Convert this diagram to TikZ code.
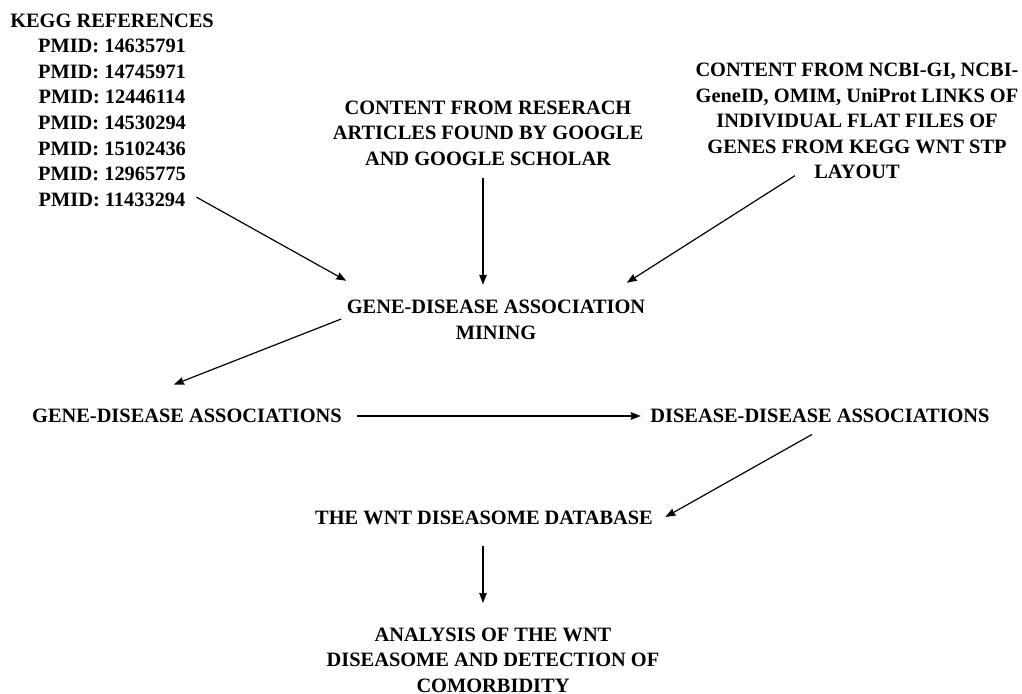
\documentclass[tikz,border=0pt]{standalone}
\usepackage{fontspec}
\setmainfont{Liberation Serif}
\usetikzlibrary{arrows.meta, calc}

\begin{document}
\begin{tikzpicture}[x=0.5pt, y=-0.5pt, ->, >={Stealth[length=5pt,width=3.8pt,inset=0.4pt]},
  semithick, txt node/.style={inner sep=0pt, align=center, font=\bfseries\fontsize{10.2}{12.8}\selectfont}]
  \useasboundingbox (0,0) rectangle (1022,694);
  \node[txt node] (kegg) at (112,110) {KEGG REFERENCES\\PMID: 14635791\\PMID: 14745971\\PMID: 12446114\\PMID: 14530294\\PMID: 15102436\\PMID: 12965775\\PMID: 11433294};
  \node[txt node] (research) at (488,133) {CONTENT FROM RESERACH\\ARTICLES FOUND BY GOOGLE\\AND GOOGLE SCHOLAR};
  \node[txt node] (ncbi) at (857,121) {CONTENT FROM NCBI-GI, NCBI-\\GeneID, OMIM, UniProt LINKS OF\\INDIVIDUAL FLAT FILES OF\\GENES FROM KEGG WNT STP\\LAYOUT};
  \node[txt node] (mining) at (496,320) {GENE-DISEASE ASSOCIATION\\MINING};
  \node[txt node] (gd) at (187,416) {GENE-DISEASE ASSOCIATIONS};
  \node[txt node] (dd) at (820,416) {DISEASE-DISEASE ASSOCIATIONS};
  \node[txt node] (wnt) at (484,518) {THE WNT DISEASOME DATABASE};
  \node[txt node] (analysis) at (493,660) {ANALYSIS OF THE WNT\\DISEASOME AND DETECTION OF\\COMORBIDITY};
  \path
    ($(kegg.south east)+(-18,-10)$) edge ($(mining.north west)+(0,-19)$)
    ($(research.south)+(-5,12)$) edge ($(mining.north)+(-13,-15)$)
    ($(ncbi.south)+(-62,-4)$) edge ($(mining.north east)+(-19,-17)$)
    ($(mining.west)+(-5,-1)$) edge ($(gd.north)+(-13,-24)$)
    ($(gd.east)+(15,0)$) edge ($(dd.west)+(-9,0)$)
    ($(dd.south)+(-8,11)$) edge ($(wnt.east)+(12,-1)$)
    ($(wnt.south)+(-1,20)$) edge ($(analysis.north)+(-10,-24)$);
\end{tikzpicture}
\end{document}
